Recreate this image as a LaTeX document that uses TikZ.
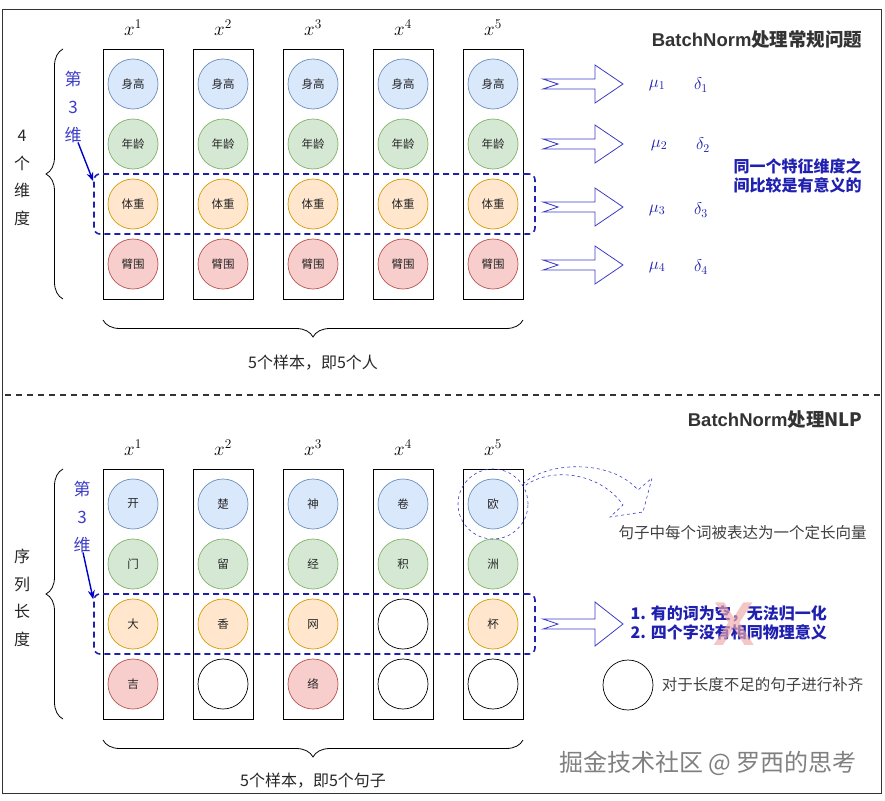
\RequirePackage{fix-cm}
\documentclass[tikz,border=0pt]{standalone}
\usepackage[no-math]{fontspec}
\setmainfont{Liberation Sans}
\newfontfamily\cjk{Noto Sans CJK SC}
\usetikzlibrary{arrows.meta,positioning,decorations.pathreplacing}
\definecolor{SkyFill}{HTML}{DAE8FC}
\definecolor{SkyLine}{HTML}{6C8EBF}
\definecolor{LeafFill}{HTML}{D5E8D4}
\definecolor{LeafLine}{HTML}{82B366}
\definecolor{SandFill}{HTML}{FFE6CC}
\definecolor{SandLine}{HTML}{D79B00}
\definecolor{RoseFill}{HTML}{F8CECC}
\definecolor{RoseLine}{HTML}{B85450}
\definecolor{NoteBlue}{HTML}{2020B0}
\definecolor{MarkBlue}{HTML}{3C3CC8}
\definecolor{TitleGray}{HTML}{333333}
\definecolor{CrossPink}{HTML}{F0A8A8}

\begin{document}
\begin{tikzpicture}[x=1pt,y=-1pt,
 col/.style={draw,line width=0.9pt,minimum width=60pt,minimum height=250pt,inner sep=0pt},
 cell/.style={circle,draw,line width=0.7pt,minimum size=50pt,inner sep=0pt,text=black!85,
  font=\cjk\fontsize{11.5}{13}\selectfont},
 sky/.style={fill=SkyFill,draw=SkyLine},leaf/.style={fill=LeafFill,draw=LeafLine},
 sand/.style={fill=SandFill,draw=SandLine},rose/.style={fill=RoseFill,draw=RoseLine},
 void/.style={fill=white,draw=black},
 rowbox/.style={draw=NoteBlue,line width=1.6pt,dash pattern=on 6pt off 4pt,rounded corners=6pt,
  minimum width=441pt,minimum height=60pt,inner sep=0pt},
 curly/.style={decorate,decoration={brace,amplitude=17pt},line width=0.8pt},
 pointer/.style={-{Stealth[length=9pt,width=7pt]},draw=blue!80!black,line width=1.4pt},
 fatarrow/.style={draw=MarkBlue,line width=0.8pt,fill=white},
 label/.style={font=\cjk\fontsize{16}{27.5}\selectfont,align=center,text=black!85},
 dimtext/.style={font=\cjk\fontsize{17}{28}\selectfont,align=center,text=MarkBlue},
 title/.style={font=\bfseries\fontsize{18.5}{20}\selectfont,text=TitleGray,anchor=east},
 note/.style={font=\cjk\bfseries\fontsize{16}{19}\selectfont,text=NoteBlue,align=left,anchor=west},
 plain/.style={font=\cjk\fontsize{15.5}{18}\selectfont,text=black!75,anchor=west},
 sym/.style={font=\fontsize{17}{19}\selectfont,text=NoteBlue}]
\useasboundingbox (0,0) rectangle (885,800);
\draw[black!80,line width=0.8pt] (2,9) rectangle (881,793);

% upper part: ordinary features
\node[title] (titleA) at (866,40) {BatchNorm\cjk 处理常规问题};
\foreach \i in {1,...,5} {
 \node[col] (colA\i) at ({43+90*\i},174) {};
 \node[font=\fontsize{19}{21}\selectfont] (xA\i) at ({43+90*\i},28) {$x^{\i}$};
}
\foreach \t/\s [count=\r] in {身高/sky,年龄/leaf,体重/sand,臂围/rose}
 \foreach \i in {1,...,5} \node[cell,\s] (t-\i-\r) at ({43+90*\i},{24+60*\r}) {\t};
\node[rowbox] (rowA) at (314.5,204) {};
\node[label] (sideA) at (22,178) {4\\个\\维\\度};
\draw[curly] (63,299) -- (63,49);
\node[dimtext] (dimA) at (73,107) {第\\3\\维};
\draw[pointer] ([xshift=5pt,yshift=4pt]dimA.south) -- ([yshift=-8pt]rowA.north west);
\draw[curly] (523,320) -- (103,320);
\node[label] (capA) at (313,363) {5个样本，即5个人};
\foreach \y in {84,144,207,265}
 \draw[fatarrow] (543,\y) ++(0,-5) -- ++(52,0) -- ++(0,-14) -- ++(28,19) -- ++(-28,19)
  -- ++(0,-14) -- ++(-52,0) -- ++(15,-5) -- cycle;
\foreach \k/\y/\dx in {1/85/0,2/145/2,3/210/0,4/267/0} {
 \node[sym] (mu\k) at (657+\dx,\y) {$\mu_{\k}$};
 \node[sym] (de\k) at (701+\dx,\y) {$\delta_{\k}$};
}
\node[note] (sameA) at (730,176) {同一个特征维度之\\间比较是有意义的};

\draw[black!80,line width=1.5pt,dash pattern=on 6pt off 5pt] (5,395) -- (880,395);

% lower part: NLP sentences
\node[title] (titleB) at (866,420) {BatchNorm\cjk 处理NLP};
\foreach \i in {1,...,5} {
 \node[col] (colB\i) at ({43+90*\i},594) {};
 \node[font=\fontsize{19}{21}\selectfont] (xB\i) at ({43+90*\i},448) {$x^{\i}$};
}
\foreach \i/\w in {1/{开/sky,门/leaf,大/sand,吉/rose},2/{楚/sky,留/leaf,香/sand,/void},
 3/{神/sky,经/leaf,网/sand,络/rose},4/{卷/sky,积/leaf,/void,/void},5/{欧/sky,洲/leaf,杯/sand,/void}}
 \foreach \t/\s [count=\r] in \w \node[cell,\s] (b-\i-\r) at ({43+90*\i},{444+60*\r}) {\t};
\node[rowbox] (rowB) at (314.5,624) {};
\node[label] (sideB) at (22,598) {序\\列\\长\\度};
\draw[curly] (63,719) -- (63,469);
\node[dimtext] (dimB) at (82,517) {第\\3\\维};
\draw[pointer] ([xshift=1pt,yshift=4pt]dimB.south) -- ([yshift=-6pt]rowB.north west);
\draw[curly] (523,740) -- (103,740);
\node[label] (capB) at (313,781) {5个样本，即5个句子};
\node[circle,draw=MarkBlue,dashed,line width=0.6pt,minimum size=70pt] (ring) at (b-5-1) {};
\draw[MarkBlue,line width=0.6pt,dashed] (523,484) .. controls (545,462) and (610,458) .. (638,490)
 -- (652,478) -- (643,512) -- (610,517) -- (623,505) .. controls (600,472) and (550,466) .. (523,487);
\node[plain] (vecB) at (615,533) {句子中每个词被表达为一个定长向量};
\draw[fatarrow] (543,624) ++(0,-5) -- ++(52,0) -- ++(0,-17) -- ++(28,22) -- ++(-28,22)
 -- ++(0,-17) -- ++(-52,0) -- ++(15,-5) -- cycle;
\node[note] (whyB) at (627,623) {1. 有的词为空，无法归一化\\2. 四个字没有相同物理意义};
\node[font=\bfseries\fontsize{62}{64}\selectfont,text=CrossPink,opacity=0.65,inner sep=0pt] (cross) at (734,624) {X};
\node[cell,void] (pad) at (628,685) {};
\node[plain,right=5pt of pad] (padtext) {对于长度不足的句子进行补齐};
\node[font=\cjk\fontsize{24}{26}\selectfont,text=black!50] (mark) at (708,763) {掘金技术社区 @ 罗西的思考};
\end{tikzpicture}
\end{document}
